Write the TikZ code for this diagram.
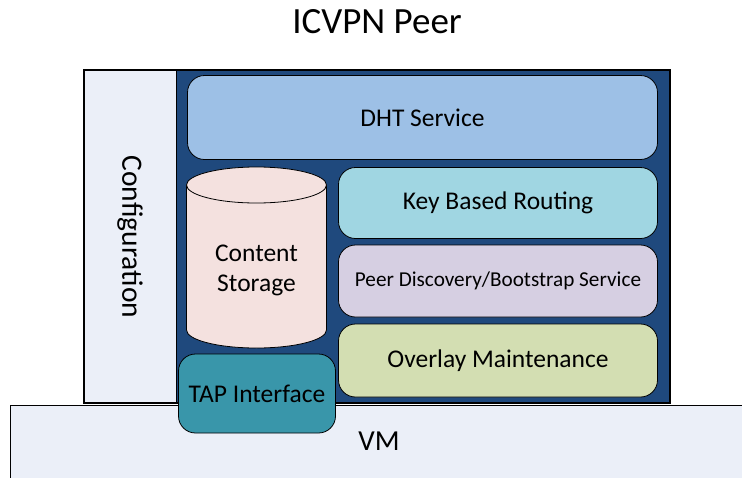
\documentclass[tikz,border=0pt]{standalone}
\usepackage{fontspec}
\setmainfont{Carlito}
\definecolor{cfgfill}{RGB}{235,239,248}
\definecolor{darkblue}{RGB}{31,73,125}
\definecolor{dhtfill}{RGB}{157,192,230}
\definecolor{kbrfill}{RGB}{160,214,226}
\definecolor{pdfill}{RGB}{214,207,226}
\definecolor{ovfill}{RGB}{211,222,178}
\definecolor{csfill}{RGB}{244,225,223}
\definecolor{tapfill}{RGB}{57,150,170}
\tikzset{
  layerbox/.style={draw=black, line width=0.8pt, rounded corners=17pt, inner sep=0pt},
  lbl/.style={font=\fontsize{25.5}{30}\selectfont, text=black, align=center},
}
\begin{document}
\begin{tikzpicture}[x=1pt,y=-1pt]
\useasboundingbox (0,0) rectangle (742,477);
% VM
\fill[cfgfill] (10.5,405.5) rectangle (750,480);
\draw[line width=1pt] (10,480) -- (10,405) -- (750,405);
\node[lbl, font=\fontsize{29}{34}\selectfont] (vm) at (379,441) {VM};
% peer box
\fill[darkblue] (176,70) rectangle (670,403);
\draw[fill=cfgfill, line width=1pt] (84,70) rectangle (176,403);
\draw[line width=1.6pt] (84,70) rectangle (670,403);
\node[lbl, rotate=-90, font=\fontsize{29.5}{34}\selectfont] (cfg) at (130,237) {Configuration};
% DHT
\node[layerbox, fill=dhtfill, minimum width=470pt, minimum height=84pt] (dht) at (422.5,117.5) {};
\node[lbl] (dhtt) at (dht.center) {DHT Service};
% KBR
\node[layerbox, fill=kbrfill, minimum width=319pt, minimum height=71pt] (kbr) at (498,203) {};
\node[lbl] (kbrt) at (kbr.center) {Key Based Routing};
% Peer discovery
\node[layerbox, fill=pdfill, minimum width=319pt, minimum height=72pt] (pd) at (498,281) {};
\node[lbl, font=\fontsize{21.2}{25}\selectfont] (pdt) at (pd.center) {Peer Discovery/Bootstrap Service};
% Overlay
\node[layerbox, fill=ovfill, minimum width=319pt, minimum height=73pt] (ov) at (498,360.5) {};
\node[lbl] (ovt) at (ov.center) {Overlay Maintenance};
% Cylinder
\fill[csfill] (186.5,185) -- (186.5,330) arc[start angle=180,end angle=0,x radius=70,y radius=18] -- (326.5,185) -- cycle;
\draw[line width=0.8pt] (186.5,185) -- (186.5,330) arc[start angle=180,end angle=0,x radius=70,y radius=18] -- (326.5,185);
\draw[fill=csfill, line width=0.8pt] (256.5,185) ellipse[x radius=70, y radius=18];
\node[lbl] (cs) at (256.5,270) {Content\\Storage};
% TAP
\node[layerbox, fill=tapfill, minimum width=157pt, minimum height=79pt] (tap) at (257,393.5) {};
\node[lbl] (tapt) at (tap.center) {TAP Interface};
% title
\node[lbl, font=\fontsize{37}{44}\selectfont] (title) at (377,22) {ICVPN Peer};
\end{tikzpicture}
\end{document}
